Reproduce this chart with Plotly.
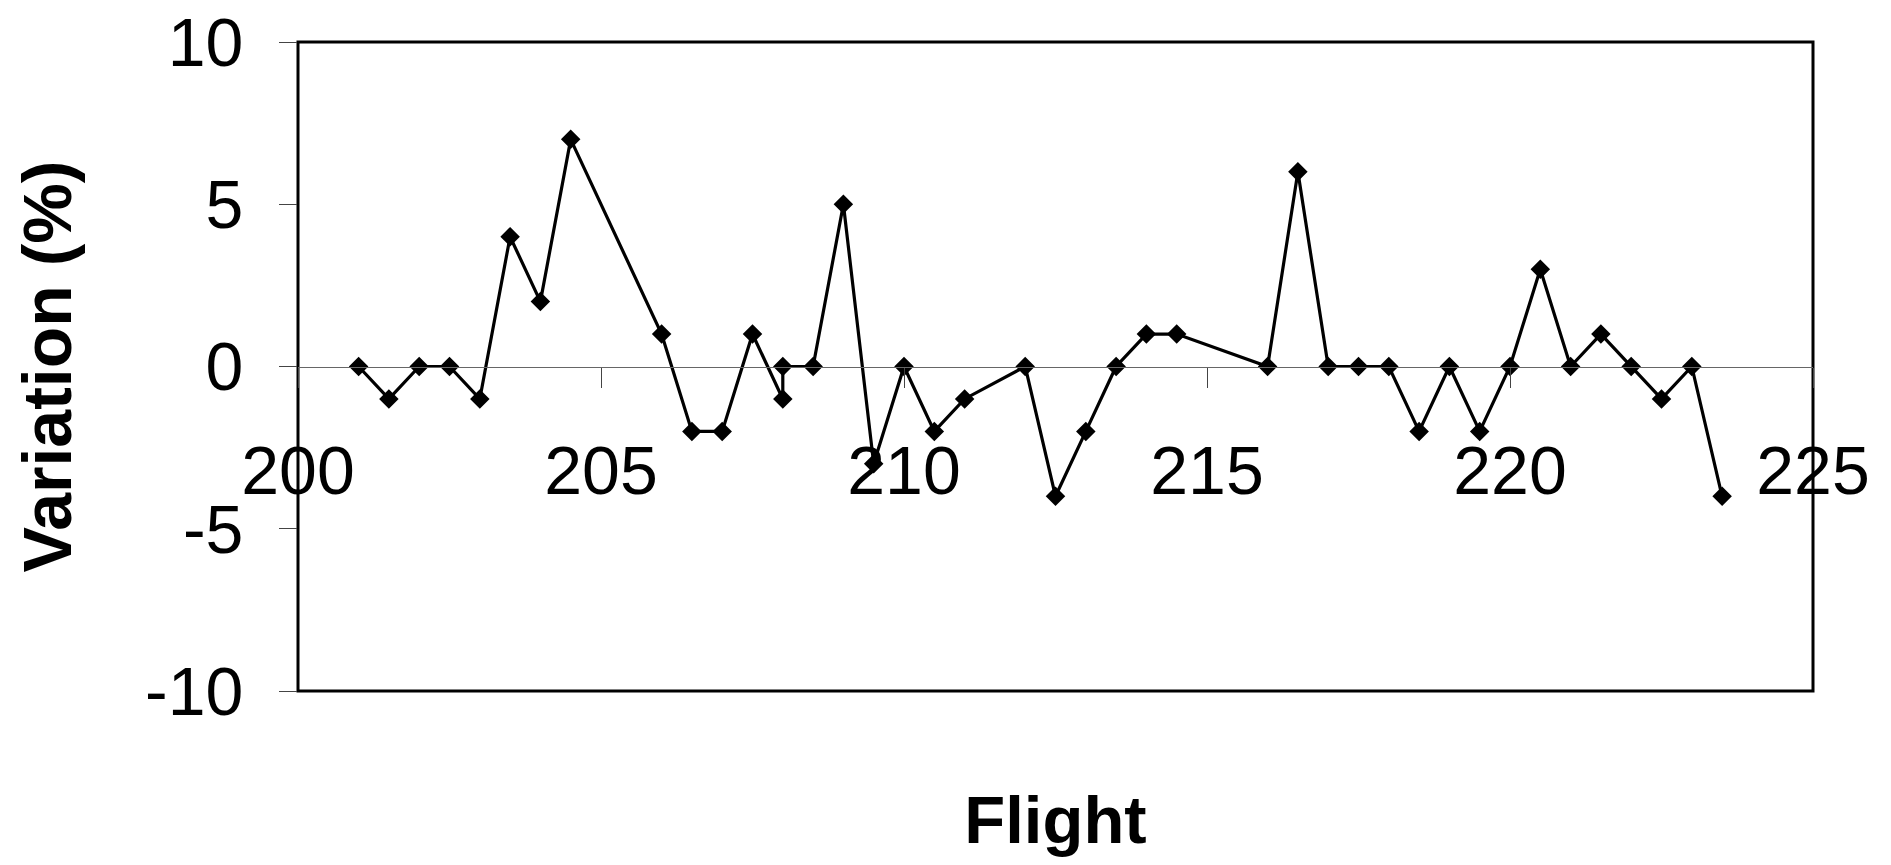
import plotly.graph_objects as go

flights = [201, 201.5, 202, 202.5, 203, 203.5, 204, 204.5,
           206, 206.5, 207, 207.5, 208, 208, 208.5, 209, 209.5,
           210, 210.5, 211, 212, 212.5, 213, 213.5, 214, 214.5,
           216, 216.5, 217, 217.5, 218, 218.5, 219, 219.5, 220,
           220.5, 221, 221.5, 222, 222.5, 223, 223.5]
variation = [0, -1, 0, 0, -1, 4, 2, 7,
             1, -2, -2, 1, -1, 0, 0, 5, -3,
             0, -2, -1, 0, -4, -2, 0, 1, 1,
             0, 6, 0, 0, 0, -2, 0, -2, 0,
             3, 0, 1, 0, -1, 0, -4]

x_ticks = [200, 205, 210, 215, 220, 225]
y_ticks = [-10, -5, 0, 5, 10]

FONT = "Liberation Sans, Arial, sans-serif"

fig = go.Figure()
fig.add_trace(go.Scatter(
    x=flights, y=variation, mode="lines+markers",
    line=dict(color="black", width=3.2),
    marker=dict(symbol="diamond", size=15, color="black"),
    showlegend=False, cliponaxis=False,
))
# empty trace so the zero-crossing axis gets drawn
fig.add_trace(go.Scatter(x=[], y=[], xaxis="x2", yaxis="y",
                         showlegend=False, hoverinfo="skip"))

fig.update_layout(
    width=1891, height=865,
    margin=dict(l=298, r=78, t=42, b=174, autoexpand=False),
    paper_bgcolor="white", plot_bgcolor="white",
    font=dict(family=FONT, color="black"),
    xaxis=dict(
        range=[200, 225], showgrid=False, zeroline=False,
        showticklabels=False, ticks="", showline=False, automargin=False,
        title=dict(text="<b>Flight</b>", font=dict(size=67, family=FONT), standoff=105),
    ),
    xaxis2=dict(
        overlaying="x", anchor="free", position=0.5, side="bottom",
        range=[200, 225], tickmode="array", tickvals=x_ticks,
        ticktext=[str(v) for v in x_ticks],
        showgrid=False, zeroline=False, automargin=False,
        showline=True, linecolor="#666", linewidth=1.2,
        ticks="outside", ticklen=20, tickwidth=1.3, tickcolor="#444",
        tickfont=dict(size=68, family=FONT), ticklabelstandoff=25,
        ticklabeloverflow="allow",
    ),
    yaxis=dict(
        range=[-10, 10], tickmode="array", tickvals=y_ticks,
        ticktext=[str(v) for v in y_ticks],
        showgrid=False, zeroline=False, showline=False, automargin=False,
        ticks="outside", ticklen=18, tickwidth=1.3, tickcolor="#444",
        tickfont=dict(size=68, family=FONT), ticklabelstandoff=22,
        ticklabeloverflow="allow",
        title=dict(text="<b>Variation (%)</b>", font=dict(size=68, family=FONT), standoff=51),
    ),
    shapes=[dict(type="rect", xref="paper", yref="paper", x0=0, x1=1, y0=0, y1=1,
                 line=dict(color="black", width=3), layer="below")],
)

fig.write_html("out.html",
               config={"displayModeBar": False},
               post_script="document.body.style.margin='0';document.body.style.overflow='hidden';")
